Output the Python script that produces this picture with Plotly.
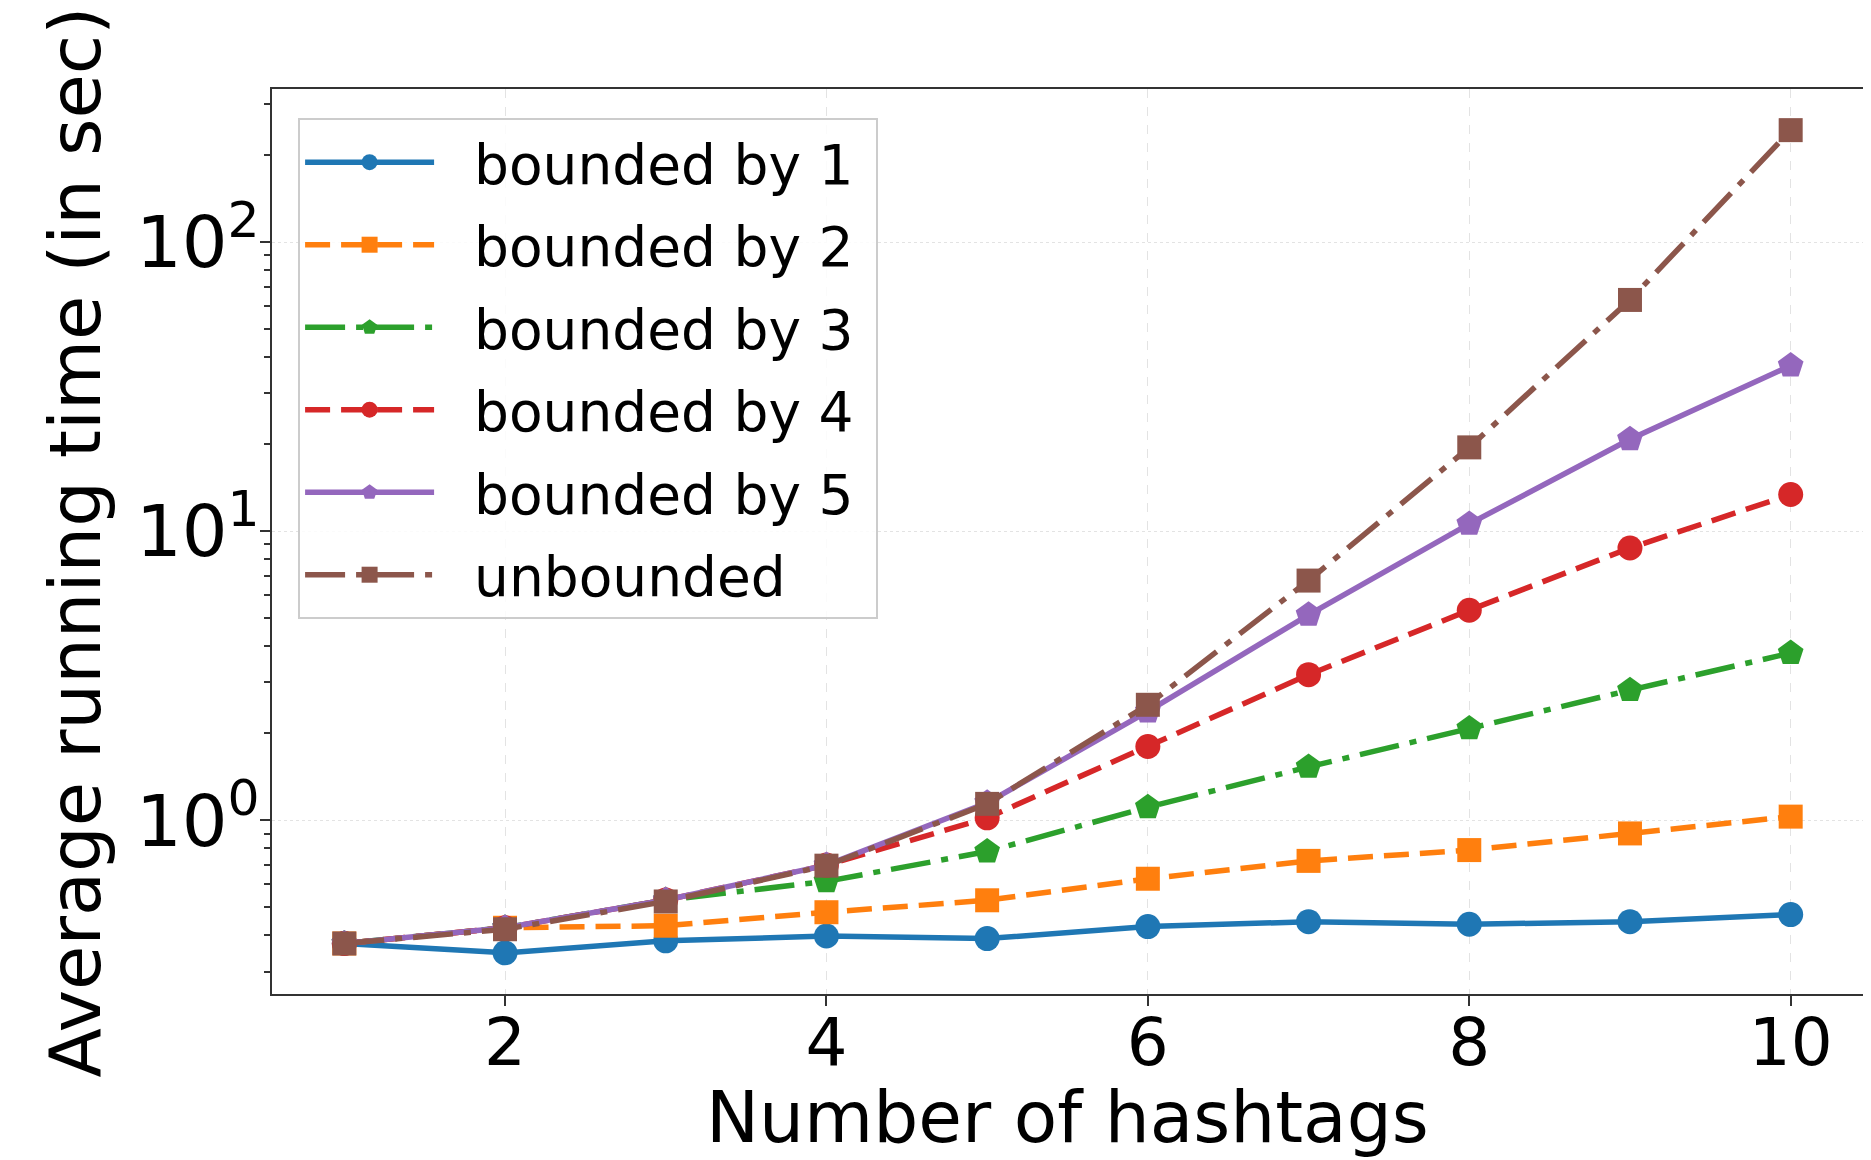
import numpy as np
import plotly.graph_objects as go

hashtags = [1, 2, 3, 4, 5, 6, 7, 8, 9, 10]
bounded1 = [0.375, 0.348, 0.383, 0.398, 0.390, 0.429, 0.446, 0.437, 0.446, 0.472]
bounded2 = [0.375, 0.425, 0.432, 0.481, 0.529, 0.628, 0.724, 0.789, 0.901, 1.03]
bounded3 = [0.375, 0.425, 0.53, 0.615, 0.78, 1.11, 1.53, 2.08, 2.82, 3.79]
bounded4 = [0.375, 0.425, 0.53, 0.70, 1.02, 1.80, 3.19, 5.33, 8.75, 13.4]
bounded5 = [0.375, 0.425, 0.53, 0.70, 1.15, 2.38, 5.14, 10.6, 20.8, 37.4]
unbounded = [0.375, 0.42, 0.524, 0.697, 1.14, 2.51, 6.75, 19.5, 63.1, 244.0]

series_names = ["bounded by 1", "bounded by 2", "bounded by 3", "bounded by 4", "bounded by 5", "unbounded"]
series_values = [bounded1, bounded2, bounded3, bounded4, bounded5, unbounded]
colors = ["#1f77b4", "#ff7f0e", "#2ca02c", "#d62728", "#9467bd", "#8c564b"]
DASHED = "25px,11px"
DASHDOT = "40px,11px,7px,11px"
dashes = ["solid", DASHED, DASHDOT, DASHED, "solid", DASHDOT]
symbols = ["circle", "square", "pentagon", "circle", "pentagon", "square"]
msizes = [25, 24, 27, 25, 27, 24]

x_tick_vals = [2, 4, 6, 8, 10]
y_tick_vals = [1, 10, 100]
y_tick_text = ["10<sup>0</sup>", "10<sup>1</sup>", "10<sup>2</sup>"]
y_minor_vals = [m * 10.0 ** e for e in (-1, 0, 1, 2) for m in range(2, 10)]

x_title = "Number of hashtags"
y_title = "Average running time (in sec)"

FONT = "DejaVu Sans"
NB = "\u00a0"

fig = go.Figure()
for i, (name, vals) in enumerate(zip(series_names, series_values)):
    fig.add_trace(go.Scatter(
        x=hashtags, y=vals, name=NB + NB + name + NB, mode="lines+markers",
        legendgroup=name,
        line=dict(color=colors[i], width=5.5, dash=dashes[i]),
        marker=dict(symbol=symbols[i], size=msizes[i], color=colors[i],
                    line=dict(width=0)),
    ))

allv = np.concatenate([np.array(v) for v in series_values])
lo, hi = np.log10(allv.min()), np.log10(allv.max())
pad = 0.05 * (hi - lo)
xmin, xmax = min(hashtags), max(hashtags)
xpad = 0.05 * (xmax - xmin)

# the page body adds an 8px margin, so the figure is 8px smaller than the window
fig.update_layout(
    width=1863, height=1152,
    paper_bgcolor="white", plot_bgcolor="white",
    margin=dict(l=264, r=8, t=81, b=166, autoexpand=False),
    font=dict(family=FONT, color="black"),
    showlegend=True,
    legend=dict(
        x=0.0164, y=0.968, xanchor="left", yanchor="top",
        bgcolor="rgba(255,255,255,0.85)", bordercolor="#cccccc", borderwidth=2,
        font=dict(family=FONT, size=55, color="black"),
        itemwidth=129, tracegroupgap=8, itemsizing="trace",
    ),
    xaxis=dict(
        automargin=False,
        range=[xmin - xpad, xmax + xpad],
        tickvals=x_tick_vals, ticktext=[str(v) for v in x_tick_vals],
        tickfont=dict(family=FONT, size=66, color="black"),
        ticks="outside", ticklen=10, tickwidth=2, tickcolor="#333",
        ticklabelstandoff=-20,
        showline=True, linecolor="#333", linewidth=2, mirror=True,
        showgrid=True, gridcolor="#e3e3e3", gridwidth=1, griddash="dash",
        zeroline=False,
    ),
    yaxis=dict(
        automargin=False,
        type="log", range=[lo - pad, hi + pad],
        tickvals=y_tick_vals, ticktext=y_tick_text,
        tickfont=dict(family=FONT, size=72, color="black"),
        ticks="outside", ticklen=10, tickwidth=2, tickcolor="#333",
        ticklabelstandoff=-14,
        showline=True, linecolor="#333", linewidth=2, mirror=True,
        showgrid=True, gridcolor="#e3e3e3", gridwidth=1, griddash="dot",
        zeroline=False,
        minor=dict(tickvals=y_minor_vals, ticks="outside", ticklen=6, tickwidth=1.5,
                   tickcolor="#333", showgrid=False),
    ),
    annotations=[
        dict(text=x_title, xref="paper", yref="paper", x=0.5, y=-0.1365,
             xanchor="center", yanchor="middle", showarrow=False,
             font=dict(family=FONT, size=71, color="black")),
        dict(text=y_title, xref="paper", yref="paper", x=-0.1235, y=0.4994,
             xanchor="center", yanchor="middle", textangle=-90, showarrow=False,
             font=dict(family=FONT, size=72, color="black")),
    ],
)

fig.write_html("out.html")
